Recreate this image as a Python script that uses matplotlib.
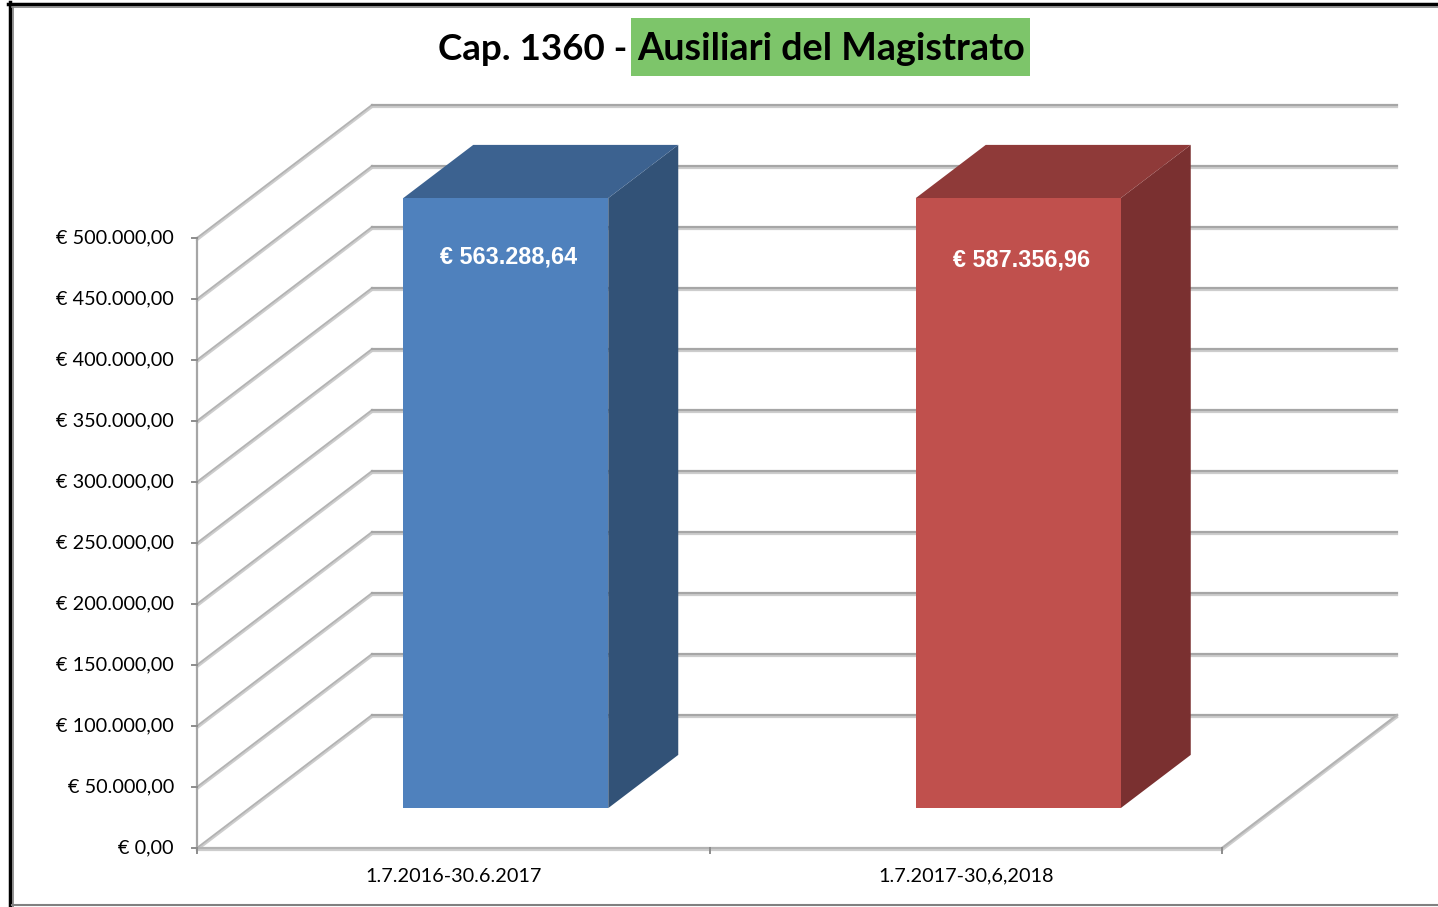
import numpy as np
import matplotlib
matplotlib.use('Agg')
import matplotlib.pyplot as plt
import matplotlib.patheffects as pe
from matplotlib.patches import Polygon, Rectangle
from matplotlib.lines import Line2D

# ---- data ----
categories = ['1.7.2016-30.6.2017', '1.7.2017-30,6,2018']
values = [563288.64, 587356.96]
front_colors = ['#4F81BD', '#C0504D']
top_colors = ['#3C6290', '#8F3A39']
side_colors = ['#325277', '#7A3030']
y_max = 500000
y_step = 50000
title_plain = 'Cap. 1360 - '
title_marked = 'Ausiliari del Magistrato'

W, H = 1438, 907
# layout in pixels
PX0, PY0 = 197, 848          # front origin of the plot box
SX = 512.5                   # px per category
SY = 610 / y_max             # px per euro
DEPTH_PX = (175, 133)        # oblique offset of the back wall
DX = DEPTH_PX[0] / SX
DY = DEPTH_PX[1] / SY


def euro(v):
    s = f'{v:,.2f}'.replace(',', 'X').replace('.', ',').replace('X', '.')
    return '€ ' + s


def proj(x, y, d):
    return (x + d * DX, y + d * DY)


fig = plt.figure(figsize=(W / 100, H / 100), dpi=100)
ax = fig.add_axes([0, 0, 1, 1])
ax.set_xlim(-PX0 / SX, (W - PX0) / SX)
ax.set_ylim(-(H - PY0) / SY, PY0 / SY)
ax.axis('off')

grid_fx = [pe.SimpleLineShadow(offset=(0, -1.6), shadow_color='#c8c8c8', alpha=0.9, rho=1.0), pe.Normal()]
ncat = len(categories)

# walls: gridlines
for v in np.arange(0, y_max + 1, y_step):
    a = proj(0, v, 0)
    b = proj(0, v, 1)
    c = proj(ncat, v, 1)
    ax.plot([a[0], b[0]], [a[1], b[1]], color='#b3b3b3', lw=1.4, zorder=1, path_effects=grid_fx)
    ax.plot([b[0], c[0]], [b[1], c[1]], color='#a6a6a6', lw=1.6, zorder=1, path_effects=grid_fx)

# floor edges
for p, q in [(proj(0, 0, 0), proj(ncat, 0, 0)), (proj(ncat, 0, 0), proj(ncat, 0, 1))]:
    ax.plot([p[0], q[0]], [p[1], q[1]], color='#b3b3b3', lw=1.6, zorder=1, path_effects=grid_fx)

# value axis with ticks
ax.plot([0, 0], [0, y_max], color='#a6a6a6', lw=1.6, zorder=2)
tick_len = 5 / SX
for v in np.arange(0, y_max + 1, y_step):
    ax.plot([-tick_len, 0], [v, v], color='#8c8c8c', lw=1.4, zorder=2)
    ax.text(-23 / SX, v, euro(v), ha='right', va='center', fontsize=14.3,
            family=['Lato', 'DejaVu Sans'], color='black')
for i in range(ncat + 1):
    ax.plot([i, i], [0, -5 / SY], color='#8c8c8c', lw=1.4, zorder=2)
for i, cat in enumerate(categories):
    ax.text(i + 0.5, -28 / SY, cat, ha='center', va='center', fontsize=14.3,
            family=['Lato', 'DejaVu Sans'], color='black')

# bars
d0, d1 = 0.3, 0.7
for i, v in enumerate(values):
    h = min(v, y_max)
    x0, x1 = i + 0.3, i + 0.7
    front = [proj(x0, 0, d0), proj(x1, 0, d0), proj(x1, h, d0), proj(x0, h, d0)]
    top = [proj(x0, h, d0), proj(x1, h, d0), proj(x1, h, d1), proj(x0, h, d1)]
    side = [proj(x1, 0, d0), proj(x1, 0, d1), proj(x1, h, d1), proj(x1, h, d0)]
    ax.add_patch(Polygon(side, closed=True, facecolor=side_colors[i], edgecolor='none', zorder=3))
    ax.add_patch(Polygon(top, closed=True, facecolor=top_colors[i], edgecolor='none', zorder=3))
    ax.add_patch(Polygon(front, closed=True, facecolor=front_colors[i], edgecolor='none', zorder=4))
    lx, ly = proj((x0 + x1) / 2, h, d0)
    ax.text(lx + 3 / SX, ly - (59 + 3 * i) / SY, euro(v), ha='center', va='center', fontsize=16.8,
            fontweight='bold', family=['Liberation Sans', 'DejaVu Sans'], color='white', zorder=5)

# title
fig.patches.append(Rectangle((631 / W, 1 - 76 / H), 399 / W, 58 / H, transform=fig.transFigure,
                             facecolor='#7DC56A', edgecolor='none', zorder=0))
fig.text(627 / W, 1 - 49.5 / H, title_plain.rstrip(), ha='right', va='center', fontsize=26.5,
         fontweight='bold', family=['Lato', 'DejaVu Sans'])
fig.text(831 / W, 1 - 49.5 / H, title_marked, ha='center', va='center', fontsize=27.2,
         fontweight='bold', family=['Lato', 'DejaVu Sans'])

# outer frame
fig.add_artist(Line2D([8 / W, 1], [1 - 3.5 / H, 1 - 3.5 / H], color='black', lw=2.5, transform=fig.transFigure))
fig.add_artist(Line2D([9.5 / W, 9.5 / W], [0, 1 - 2 / H], color='black', lw=2.5, transform=fig.transFigure))
fig.add_artist(Line2D([12 / W, 1], [1 - 7 / H, 1 - 7 / H], color='#808080', lw=1.2, transform=fig.transFigure))
fig.add_artist(Line2D([12.5 / W, 12.5 / W], [0, 1 - 7 / H], color='#808080', lw=1.2, transform=fig.transFigure))
fig.add_artist(Line2D([12 / W, 1], [1.6 / H, 1.6 / H], color='#808080', lw=1.5, transform=fig.transFigure))

fig.savefig('out.png', dpi=100)
